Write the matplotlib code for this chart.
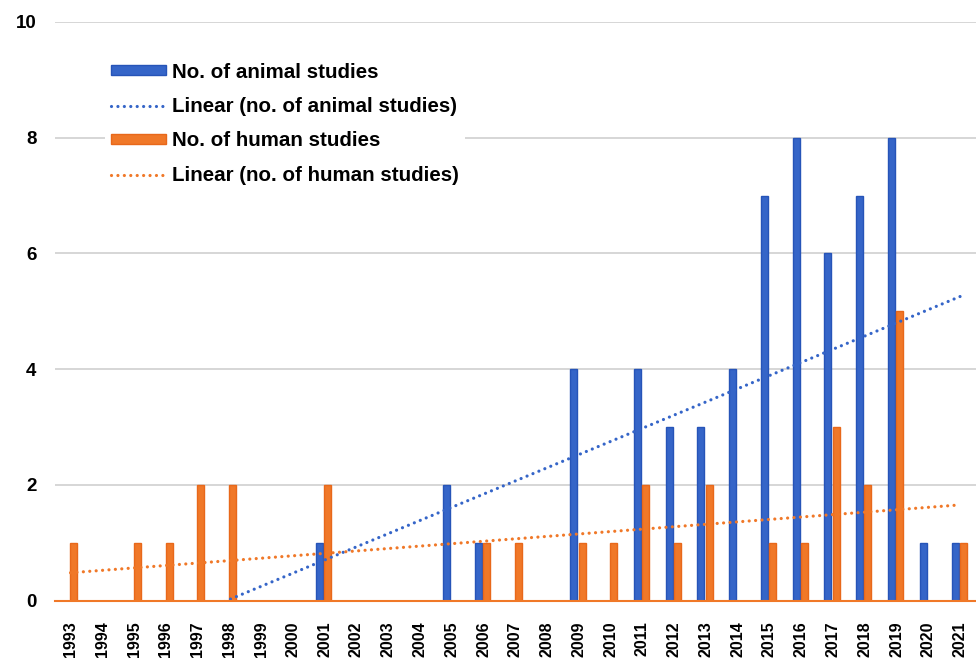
import numpy as np
import matplotlib
matplotlib.use("Agg")
import matplotlib.pyplot as plt
from matplotlib.patches import Patch
from matplotlib.lines import Line2D

years = list(range(1993, 2022))
animal = [0, 0, 0, 0, 0, 0, 0, 0, 1, 0, 0, 0, 2, 1, 0, 0, 4, 0, 4, 3, 3, 4, 7, 8, 6, 7, 8, 1, 1]
human = [1, 0, 1, 1, 2, 2, 0, 0, 2, 0, 0, 0, 0, 1, 1, 0, 1, 1, 2, 1, 2, 0, 1, 1, 3, 2, 5, 0, 1]

plt.rcParams['font.family'] = ['Liberation Sans', 'DejaVu Sans']
plt.rcParams['font.weight'] = 'bold'

blue = '#3565C8'
blue_e = '#2654B8'
orange = '#F07828'
orange_e = '#E8681A'

fig = plt.figure(figsize=(9.76, 6.62), dpi=100)
ax = fig.add_axes([0.056, 0.0926, 0.944, 0.8744])

x = np.arange(len(years))
w = 0.22
ax.bar(x - 0.16, animal, width=w, color=blue, edgecolor=blue_e, linewidth=1.0, zorder=3)
ax.bar(x + 0.1, human, width=w, color=orange, edgecolor=orange_e, linewidth=1.0, zorder=3)

# Linear trendlines (least squares over all categories)
xi = np.arange(1, len(years) + 1)
pa = np.polyfit(xi, animal, 1)
ph = np.polyfit(xi, human, 1)
ls = (0, (0.01, 2.0))
lw = 2.3
ax.plot(x, np.polyval(pa, xi), color='#3565C8', lw=lw, linestyle=ls,
        dash_capstyle='round', zorder=4)
ax.plot(x, np.polyval(ph, xi), color='#F07828', lw=lw, linestyle=ls,
        dash_capstyle='round', zorder=4)

ax.set_ylim(0, 10)
ax.set_xlim(-0.5, len(years) - 0.5)
ax.set_yticks([0, 2, 4, 6, 8, 10])
ax.set_xticks(x)
ax.set_xticklabels([str(y) for y in years], rotation=90, fontsize=11.5, fontweight='bold')
ax.tick_params(axis='y', labelsize=13.5, length=0, pad=13)
ax.tick_params(axis='x', length=0, pad=15)
for lab in ax.get_yticklabels():
    lab.set_fontweight('bold')
ax.yaxis.grid(True, color='#D0D0D0', lw=1.2, zorder=0)
ax.set_axisbelow(True)
for s in ['top', 'right', 'left']:
    ax.spines[s].set_visible(False)
ax.spines['bottom'].set_color(orange)
ax.spines['bottom'].set_linewidth(1.5)
ax.spines['bottom'].set_zorder(5)

handles = [
    Patch(facecolor=blue, edgecolor=blue_e, lw=1.0),
    Line2D([0], [0], color='#3565C8', lw=lw, linestyle=ls, dash_capstyle='round'),
    Patch(facecolor=orange, edgecolor=orange_e, lw=1.0),
    Line2D([0], [0], color='#F07828', lw=lw, linestyle=ls, dash_capstyle='round'),
]
labels = ['No. of animal studies', 'Linear (no. of animal studies)',
          'No. of human studies', 'Linear (no. of human studies)']
leg = ax.legend(handles, labels, loc='upper left', bbox_to_anchor=(0.043, 0.958),
                frameon=True, fancybox=False, edgecolor='none', facecolor='white',
                framealpha=1.0, prop={'size': 14.8, 'weight': 'bold'},
                handlelength=2.7, handleheight=0.4, handletextpad=0.3,
                labelspacing=0.75, borderpad=0.3)
leg.set_zorder(6)

fig.savefig('out.png', dpi=100)
